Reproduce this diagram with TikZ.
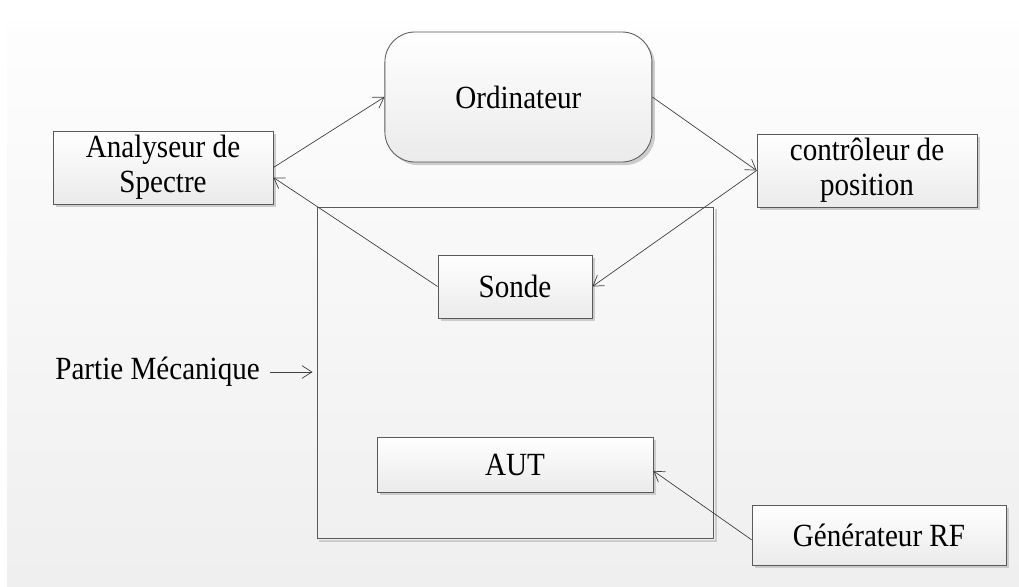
\documentclass[tikz,border=0pt]{standalone}
\usepackage{fontspec}
\setmainfont{Liberation Serif}[FakeStretch=0.9]
\usetikzlibrary{arrows.meta}
\usetikzlibrary{shadows}
\usetikzlibrary{positioning}
\definecolor{mline}{rgb}{0.35, 0.35, 0.35}
\definecolor{marrow}{rgb}{0.25, 0.25, 0.25}
\definecolor{mbgtop}{rgb}{0.995, 0.995, 0.995}
\definecolor{mbgbot}{rgb}{0.937, 0.937, 0.937}
\definecolor{mboxbot}{rgb}{0.92, 0.92, 0.92}
\definecolor{mshadow}{rgb}{0.8, 0.8, 0.8}
\tikzset{block/.style = {draw = mline, line width = 0.6pt, top color = white,
                         bottom color = mboxbot, align = center, inner sep = 0,
                         font = \fontsize{23}{25}\selectfont,
                         drop shadow = {shadow xshift = 2.2pt, shadow yshift = -2.2pt,
                                        fill = mshadow, opacity = 1}}}
\tikzset{roundblock/.style = {block, rounded corners = 0.75cm}}
\tikzset{frame/.style = {draw = mline, line width = 0.7pt, inner sep = 0}}
\tikzset{arr/.style = {draw = marrow, line width = 0.5pt,
                       -{Straight Barb[length = 7pt, width = 9pt, line width = 0.5pt]}}}

\begin{document}
\begin{tikzpicture}
      \useasboundingbox (0, 0) rectangle (25.475, 14.65);
      \shade [top color = mbgtop, bottom color = mbgbot] (0.175, 0) rectangle (25.475, 14.15);

      \node [frame, minimum width = 9.9cm, minimum height = 8.275cm] (meca) at (12.875, 5.3375) {};
      \draw [mshadow, line width = 1.2pt] ([shift = {(0.06, -0.06)}] meca.north east)
            -- ([shift = {(0.06, -0.06)}] meca.south east) -- ([shift = {(0.06, -0.06)}] meca.south west);

      \node [roundblock, minimum width = 6.675cm, minimum height = 3.25cm] (ordi) at (12.96, 12.225) {Ordinateur};
      \node [block, minimum width = 5.5cm, minimum height = 1.825cm] (ana) at (4.075, 10.4625) {Analyseur de\\Spectre};
      \node [block, minimum width = 5.5cm, minimum height = 1.825cm] (ctrl) at (21.675, 10.3875) {contrôleur de\\position};
      \node [block, minimum width = 3.85cm, minimum height = 1.575cm] (sonde) at (12.875, 7.4875) {Sonde};
      \node [block, minimum width = 6.9cm, minimum height = 1.375cm] (aut) at (12.875, 3.0375) {AUT};
      \node [block, minimum width = 6.35cm, minimum height = 1.5cm] (gen) at (21.975, 1.275) {Générateur RF};

      \node [font = \fontsize{23}{25}\selectfont, inner sep = 0.25cm] (partie) at (3.94, 5.35) {Partie Mécanique};

      \draw [arr] (ana.east) -- (ordi.west);
      \draw [arr] (ordi.east) -- (ctrl.west);
      \draw [arr] (ctrl.west) -- (sonde.east);
      \draw [arr] (sonde.west) -- ([yshift = -0.25cm] ana.east);
      \draw [arr] ([yshift = -0.12cm] gen.west) -- ([yshift = -0.16cm] aut.east);
      \draw [arr, shorten > = 0.1cm] (partie.east) -- (partie.east -| meca.west);
\end{tikzpicture}
\end{document}
